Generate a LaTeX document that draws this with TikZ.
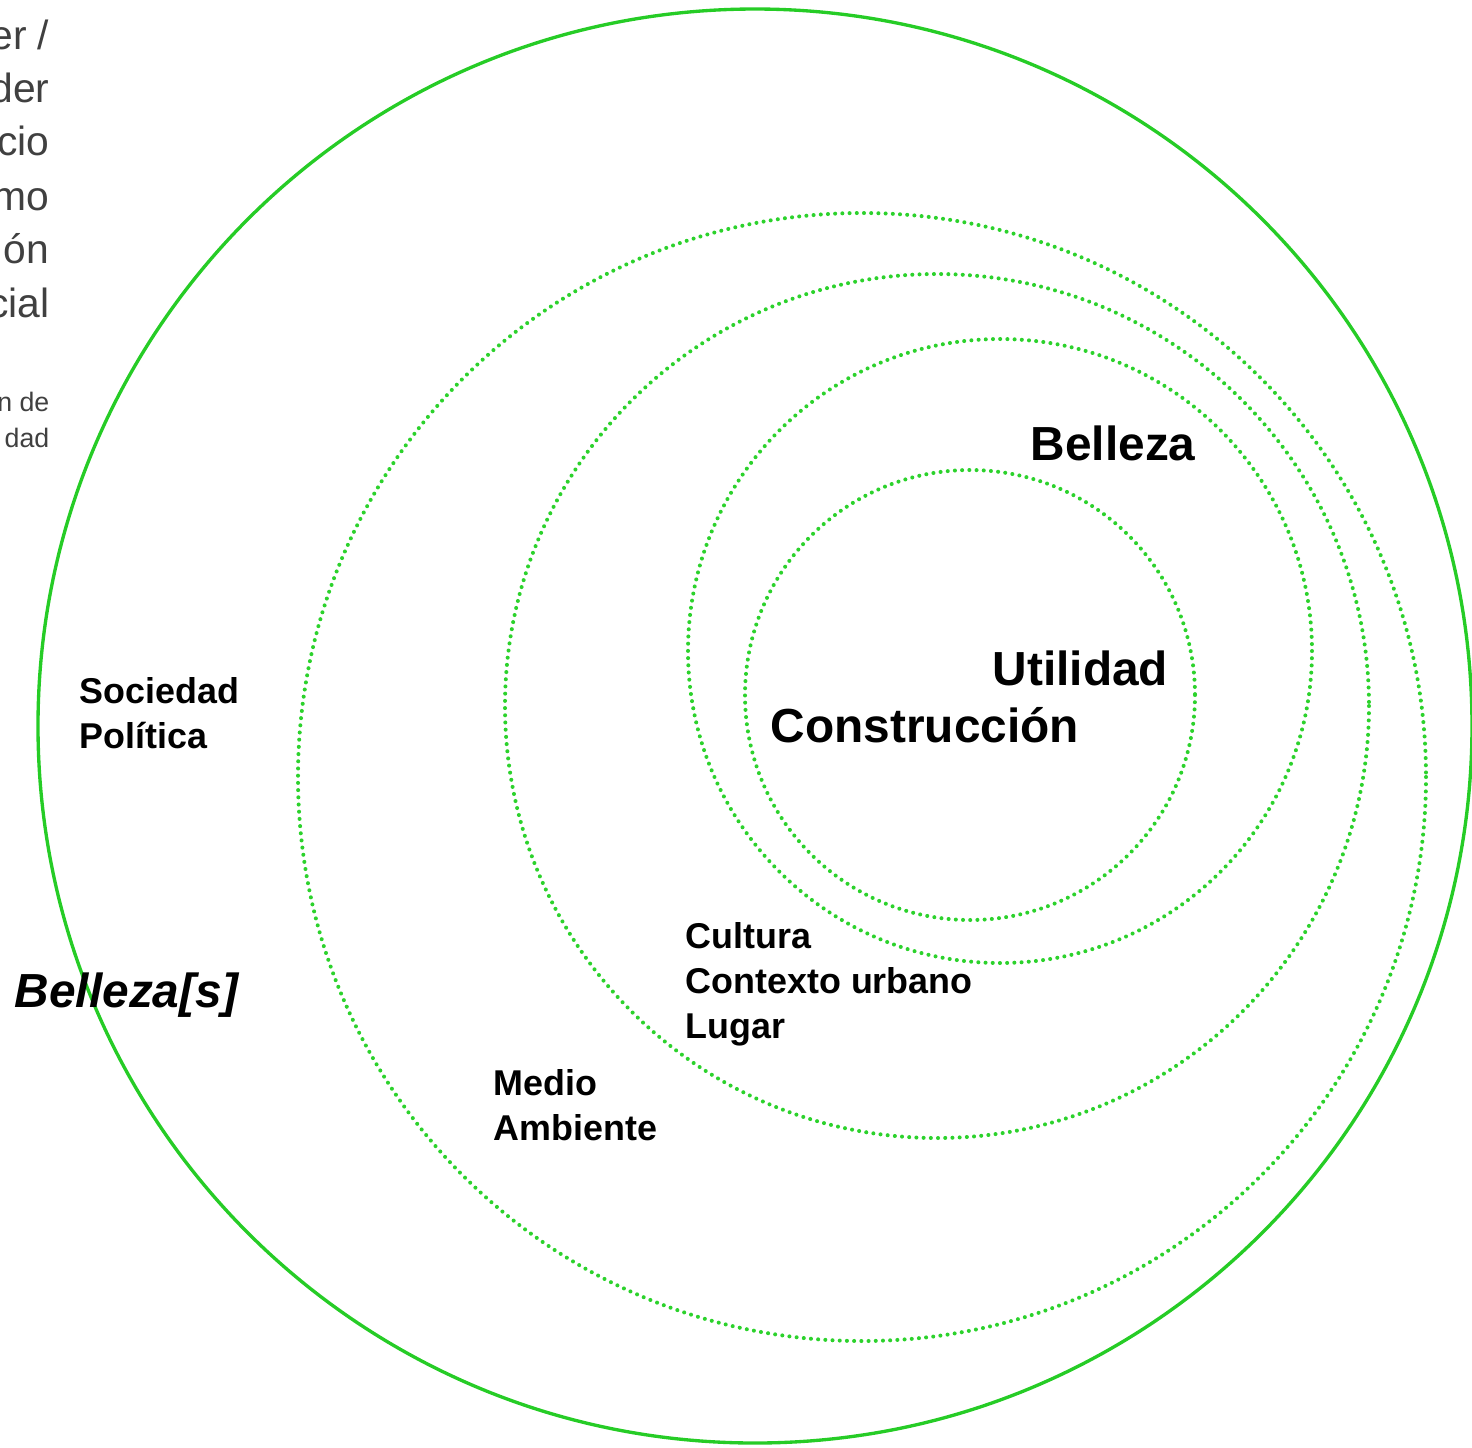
\documentclass[tikz,border=0pt]{standalone}
\usepackage{fontspec}
\setmainfont{Liberation Sans}
\definecolor{ringgreen}{RGB}{38,204,38}
\definecolor{dotgreen}{RGB}{44,210,44}
\definecolor{notegray}{RGB}{64,64,64}
\begin{document}
\begin{tikzpicture}[x=0.01cm, y=-0.01cm,
    ring/.style={ringgreen, line width=0.95pt},
    dotring/.style={dotgreen, line width=1.15pt, line cap=round, dash pattern=on 0pt off 2.05pt},
    lbl/.style={inner sep=0pt, anchor=base west, font=\fontsize{10.2}{12}\selectfont\bfseries},
    biglbl/.style={inner sep=0pt, anchor=base west, font=\fontsize{13.6}{16}\selectfont\bfseries},
    note/.style={inner sep=0pt, anchor=base east, text=notegray, font=\fontsize{11.6}{13}\selectfont},
    smallnote/.style={inner sep=0pt, anchor=base east, text=notegray, font=\fontsize{7.6}{9}\selectfont}]
  \useasboundingbox (0,0) rectangle (1472,1447);

  % Rings
  \draw[ring] (755,726) circle (717);
  \draw[dotring] (862,777) circle (564);
  \draw[dotring] (937,706) circle (432);
  \draw[dotring] (1000,651) circle (312);
  \draw[dotring] (970,695) circle (225);

  % Cut-off notes, top left
  \node[note] (n1) at (50,49) {er /};
  \node[note] (n2) at (50,102) {der};
  \node[note] (n3) at (50,155) {cio};
  \node[note] (n4) at (50,210) {mo};
  \node[note] (n5) at (50,263) {ón};
  \node[note] (n6) at (50,317) {cial};
  \node[smallnote] (s1) at (50,411) {n de};
  \node[smallnote] (s2) at (50,447) {dad};

  % Labels
  \node[biglbl] (belleza) at (1030,460) {Belleza};
  \node[biglbl] (utilidad) at (992,685) {Utilidad};
  \node[biglbl] (construccion) at (770,742) {Construcción};
  \node[lbl] (cultura) at (685,948) {Cultura};
  \node[lbl] (contexto) at (685,993) {Contexto urbano};
  \node[lbl] (lugar) at (685,1038) {Lugar};
  \node[lbl] (medio) at (493,1095) {Medio};
  \node[lbl] (ambiente) at (493,1140) {Ambiente};
  \node[lbl] (sociedad) at (79,703) {Sociedad};
  \node[lbl] (politica) at (79,748) {Política};
  \node[biglbl, font=\fontsize{13.6}{16}\selectfont\bfseries\itshape] (bellezas) at (14,1007) {Belleza[s]};
\end{tikzpicture}
\end{document}
